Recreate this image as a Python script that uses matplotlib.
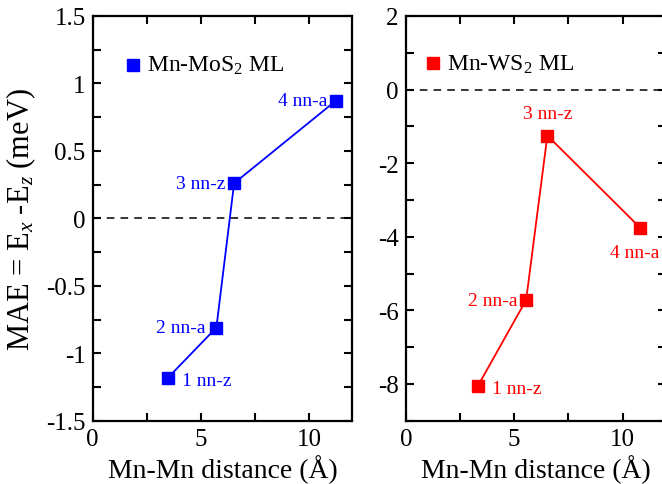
import matplotlib
matplotlib.use('agg')
import matplotlib.pyplot as plt
from matplotlib.ticker import MultipleLocator

plt.rcParams['font.family'] = ['Liberation Serif', 'DejaVu Serif']
plt.rcParams['mathtext.fontset'] = 'custom'
plt.rcParams['mathtext.rm'] = 'Liberation Serif'
plt.rcParams['mathtext.it'] = 'Liberation Serif:italic'

# Data
labels = ['1 nn-z', '2 nn-a', '3 nn-z', '4 nn-a']
dist_mos2 = [3.49, 5.72, 6.54, 11.23]
mae_mos2 = [-1.18, -0.81, 0.26, 0.87]
dist_ws2 = [3.32, 5.55, 6.53, 10.80]
mae_ws2 = [-8.06, -5.72, -1.25, -3.75]

xticks = [0, 5, 10]
yticks_mos2 = [-1.5, -1, -0.5, 0, 0.5, 1, 1.5]
ylabels_mos2 = ['-1.5', '-1', '-0.5', '0', '0.5', '1', '1.5']
yticks_ws2 = [-8, -6, -4, -2, 0, 2]

fig = plt.figure(figsize=(6.62, 4.85), dpi=100)
ax1 = fig.add_axes([0.140, 0.1305, 0.392, 0.8345])
ax2 = fig.add_axes([0.613, 0.1305, 0.393, 0.8345])


def style(ax, ylim, ymin):
    ax.set_xlim(0, 12)
    ax.set_ylim(*ylim)
    ax.set_xticks(xticks)
    ax.set_xticklabels([str(v) for v in xticks])
    ax.xaxis.set_minor_locator(MultipleLocator(2.5))
    ax.yaxis.set_minor_locator(MultipleLocator(ymin))
    ax.tick_params(which='both', direction='in', top=True, right=True,
                   length=6, width=1.5, labelsize=18, pad=5)
    for s in ax.spines.values():
        s.set_linewidth(1.6)
    ax.axhline(0, color='black', linestyle=(0, (5, 4)), linewidth=1.1, zorder=1)
    ax.set_xlabel('Mn-Mn distance (Å)', fontsize=20, labelpad=3)


style(ax1, (-1.5, 1.5), 0.25)
style(ax2, (-9, 2), 1)

ax1.set_yticks(yticks_mos2)
ax1.set_yticklabels(ylabels_mos2)
ax2.set_yticks(yticks_ws2)
ax2.set_yticklabels([str(v) for v in yticks_ws2])

ax1.plot(dist_mos2, mae_mos2, color='#0000ff', linewidth=1.3, marker='s',
         markersize=9, zorder=3)
ax2.plot(dist_ws2, mae_ws2, color='#ff0000', linewidth=1.3, marker='s',
         markersize=9, zorder=3)

ax1.set_ylabel('MAE = E$_x$ -E$_z$ (meV)', fontsize=22, labelpad=6)

# point labels
fs = 14
ax1.annotate(labels[0], (dist_mos2[0], mae_mos2[0]), xytext=(10, -2),
             textcoords='offset points', color='#0000ff', fontsize=fs, va='center')
ax1.annotate(labels[1], (dist_mos2[1], mae_mos2[1]), xytext=(-8, 0),
             textcoords='offset points', color='#0000ff', fontsize=fs, va='center', ha='right')
ax1.annotate(labels[2], (dist_mos2[2], mae_mos2[2]), xytext=(-6, 0),
             textcoords='offset points', color='#0000ff', fontsize=fs, va='center', ha='right')
ax1.annotate(labels[3], (dist_mos2[3], mae_mos2[3]), xytext=(-6, 0),
             textcoords='offset points', color='#0000ff', fontsize=fs, va='center', ha='right')

ax2.annotate(labels[0], (dist_ws2[0], mae_ws2[0]), xytext=(10, -2),
             textcoords='offset points', color='#ff0000', fontsize=fs, va='center')
ax2.annotate(labels[1], (dist_ws2[1], mae_ws2[1]), xytext=(-6, 0),
             textcoords='offset points', color='#ff0000', fontsize=fs, va='center', ha='right')
ax2.annotate(labels[2], (dist_ws2[2], mae_ws2[2]), xytext=(0, 10),
             textcoords='offset points', color='#ff0000', fontsize=fs, va='bottom', ha='center')
ax2.annotate(labels[3], (dist_ws2[3], mae_ws2[3]), xytext=(-4, -12),
             textcoords='offset points', color='#ff0000', fontsize=fs, va='top', ha='center')

# legends drawn by hand as in the original
ax1.plot([1.86], [1.14], 's', color='#0000ff', markersize=8)
ax1.text(2.5, 1.14, 'Mn-MoS$_2$ ML', fontsize=17, va='center')
ax2.plot([1.27], [0.71], 's', color='#ff0000', markersize=8)
ax2.text(1.9, 0.71, 'Mn-WS$_2$ ML', fontsize=17, va='center')

plt.savefig('out.png', dpi=100)
